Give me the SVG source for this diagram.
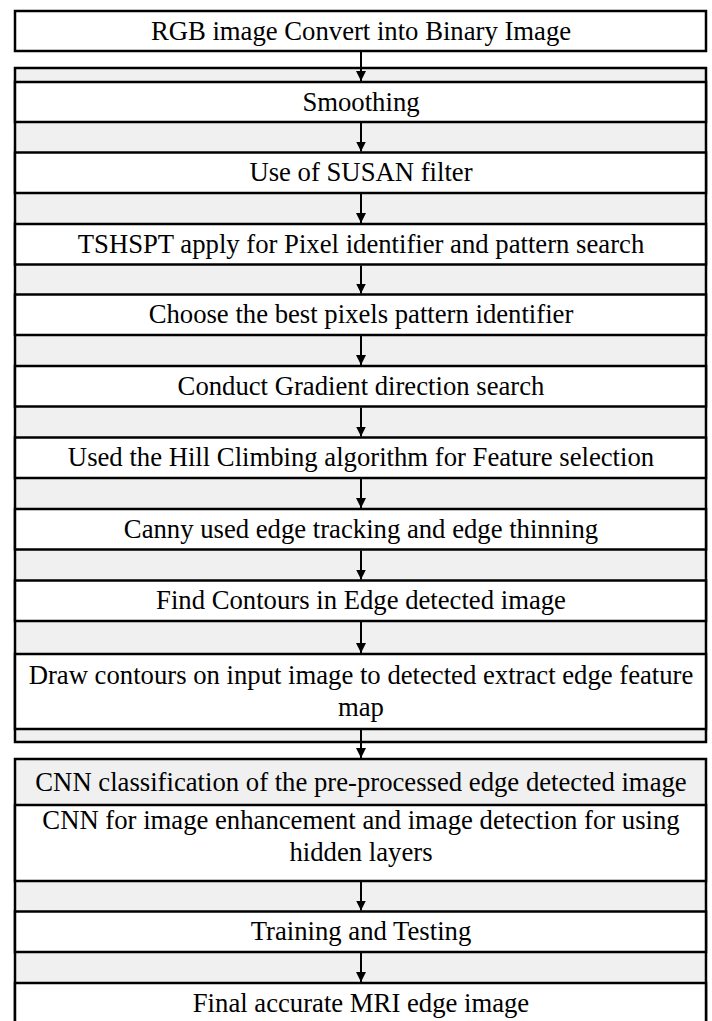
<svg xmlns="http://www.w3.org/2000/svg" width="712" height="1021" viewBox="0 0 712 1021">
<style>
  .panel { fill: #f0f0f0; stroke: #000; stroke-width: 2.5; }
  .box { fill: #ffffff; stroke: #000; stroke-width: 2.5; }
  .lbl { font-family: 'Liberation Serif', serif; font-size: 26.7px; fill: #000; text-anchor: middle; }
  .conn { stroke: #000; stroke-width: 2; fill: none; marker-end: url(#arrow); }
</style>
<defs>
  <marker id="arrow" markerUnits="userSpaceOnUse" markerWidth="10" markerHeight="10" refX="10" refY="5" orient="auto">
    <path d="M0,0 L10,5 L0,10 z" fill="#000"/>
  </marker>
</defs>
<rect x="0" y="0" width="712" height="1021" fill="#ffffff"/>
<g id="panels">
  <rect id="panel1" class="panel" x="15" y="68" width="691" height="674"/>
  <rect id="panel2" class="panel" x="15" y="759" width="691" height="290"/>
</g>
<g font-family="Liberation Serif, serif">
<g id="n1"><rect class="box" x="15" y="11" width="691" height="40"/><text class="lbl" x="361" y="39.5">RGB image Convert into Binary Image</text></g>
<g id="n2"><rect class="box" x="15" y="82" width="691" height="40"/><text class="lbl" x="361" y="110.5">Smoothing</text></g>
<g id="n3"><rect class="box" x="15" y="152.5" width="691" height="40.5"/><text class="lbl" x="361" y="181">Use of SUSAN filter</text></g>
<g id="n4"><rect class="box" x="15" y="224" width="691" height="40.5"/><text class="lbl" x="361" y="252.5">TSHSPT apply for Pixel identifier and pattern search</text></g>
<g id="n5"><rect class="box" x="15" y="294.5" width="691" height="40.5"/><text class="lbl" x="361" y="323">Choose the best pixels pattern identifier</text></g>
<g id="n6"><rect class="box" x="15" y="366" width="691" height="40.5"/><text class="lbl" x="361" y="394.5">Conduct Gradient direction search</text></g>
<g id="n7"><rect class="box" x="15" y="437.5" width="691" height="40.5"/><text class="lbl" x="361" y="466">Used the Hill Climbing algorithm for Feature selection</text></g>
<g id="n8"><rect class="box" x="15" y="509" width="691" height="40.5"/><text class="lbl" x="361" y="537.5">Canny used edge tracking and edge thinning</text></g>
<g id="n9"><rect class="box" x="15" y="580.5" width="691" height="40.5"/><text class="lbl" x="361" y="609">Find Contours in Edge detected image</text></g>
<g id="n10"><rect class="box" x="15" y="654" width="691" height="75"/><text class="lbl" x="361" y="684">Draw contours on input image to detected extract edge feature</text><text class="lbl" x="361" y="716">map</text></g>
<g id="n11"><text class="lbl" x="361" y="790.5">CNN classification of the pre-processed edge detected image</text></g>
<g id="n12"><rect class="box" x="15" y="805" width="691" height="76"/><text class="lbl" x="361" y="829">CNN for image enhancement and image detection for using</text><text class="lbl" x="361" y="861">hidden layers</text></g>
<g id="n13"><rect class="box" x="15" y="911.5" width="691" height="40.5"/><text class="lbl" x="361" y="940">Training and Testing</text></g>
<g id="n14"><rect class="box" x="15" y="983" width="691" height="60"/><text class="lbl" x="361" y="1012">Final accurate MRI edge image</text></g>
</g>
<g id="connectors">
  <line class="conn" x1="361" y1="52" x2="361" y2="81"/>
  <line class="conn" x1="361" y1="123" x2="361" y2="151.5"/>
  <line class="conn" x1="361" y1="194" x2="361" y2="223"/>
  <line class="conn" x1="361" y1="265.5" x2="361" y2="293.5"/>
  <line class="conn" x1="361" y1="336" x2="361" y2="365"/>
  <line class="conn" x1="361" y1="407.5" x2="361" y2="436.5"/>
  <line class="conn" x1="361" y1="479" x2="361" y2="508"/>
  <line class="conn" x1="361" y1="550.5" x2="361" y2="579.5"/>
  <line class="conn" x1="361" y1="622" x2="361" y2="653"/>
  <line class="conn" x1="361" y1="730" x2="361" y2="758"/>
  <line class="conn" x1="361" y1="882" x2="361" y2="910.5"/>
  <line class="conn" x1="361" y1="953" x2="361" y2="982"/>
</g>
</svg>
